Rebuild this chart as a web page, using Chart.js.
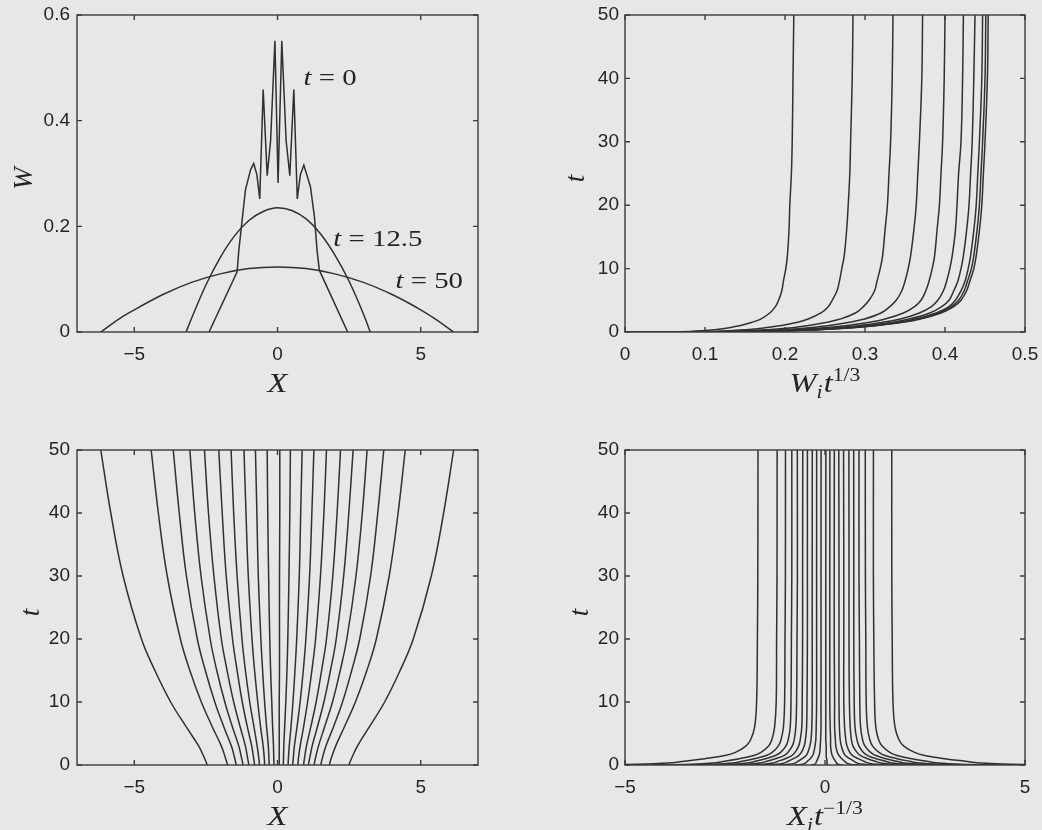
<!DOCTYPE html>
<html>
<head>
<meta charset="utf-8">
<title>Spreading of a thin layer</title>
<script src="https://cdn.jsdelivr.net/npm/chart.js@4.4.1/dist/chart.umd.min.js"></script>
<style>
  html, body { margin: 0; background: #e7e7e7; }
  #figure { position: relative; width: 1042px; height: 830px; overflow: hidden; }
  #figure canvas { position: absolute; }
</style>
</head>
<body>
<div id="figure">
  <canvas id="profiles" width="521" height="415" style="left:0;top:0"></canvas>
  <canvas id="heights" width="521" height="415" style="left:521px;top:0"></canvas>
  <canvas id="paths" width="521" height="415" style="left:0;top:415px"></canvas>
  <canvas id="scaledPaths" width="521" height="415" style="left:521px;top:415px"></canvas>
</div>
<script>
// ---- data ----

// W(X) profiles at t = 0, 12.5 and 50
const profileX0 = [-2.39, -1.41, -1.35, -1.26, -1.12, -0.94, -0.83, -0.72, -0.62, -0.50, -0.36, -0.24, -0.09,
                   0.02, 0.15, 0.30, 0.43, 0.57, 0.69, 0.80, 0.92, 1.15, 1.29, 1.38, 1.46, 2.45];
const profileW0 = [0, 0.114, 0.155, 0.199, 0.269, 0.307, 0.319, 0.298, 0.252, 0.459, 0.296, 0.363, 0.551,
                   0.282, 0.551, 0.363, 0.296, 0.459, 0.252, 0.298, 0.316, 0.275, 0.218, 0.155, 0.117, 0];
const profileX12 = [-3.19, -3.0, -2.5, -2.0, -1.5, -1.0, -0.5, 0, 0.5, 1.0, 1.5, 2.0, 2.5, 3.0, 3.24];
const profileW12 = [0, 0.026, 0.089, 0.141, 0.182, 0.211, 0.228, 0.235, 0.230, 0.214, 0.186, 0.146, 0.096, 0.034, 0];
const profileX50 = [-6.17, -5.5, -5, -4, -3, -2, -1, 0, 1, 2, 3, 4, 5, 5.5, 6.15];
const profileW50 = [0, 0.026, 0.042, 0.071, 0.094, 0.110, 0.120, 0.123, 0.120, 0.110, 0.094, 0.071, 0.042, 0.025, 0];

// W_i t^(1/3) for each marker against t
const heightTimes = [0, 0.05, 0.2, 0.5, 1, 1.5, 2, 3, 4, 5, 6.5, 8, 10, 12, 16, 20, 25, 30, 40, 50];
const scaledHeights = [
  [0, .070, .095, .122, .143, .158, .169, .181, .188, .192, .196, .198, .201, .203, .205, .206, .208, .209, .210, .211],
  [0, .094, .128, .165, .194, .214, .228, .245, .254, .259, .265, .268, .271, .274, .277, .279, .281, .282, .284, .285],
  [0, .111, .151, .194, .228, .251, .268, .288, .298, .305, .312, .315, .319, .322, .325, .328, .330, .332, .334, .335],
  [0, .123, .167, .216, .253, .279, .298, .320, .331, .339, .346, .350, .354, .357, .361, .364, .366, .368, .371, .372],
  [0, .132, .180, .232, .276, .304, .324, .348, .362, .370, .376, .380, .384, .387, .390, .393, .395, .397, .399, .400],
  [0, .140, .190, .245, .292, .321, .343, .368, .383, .391, .398, .402, .406, .409, .413, .415, .417, .420, .422, .423],
  [0, .144, .197, .254, .302, .333, .354, .381, .396, .405, .411, .416, .420, .423, .427, .430, .432, .434, .436, .4375],
  [0, .148, .201, .259, .308, .340, .362, .389, .405, .413, .420, .425, .429, .432, .436, .439, .441, .443, .446, .447],
  [0, .149, .203, .262, .311, .343, .365, .392, .408, .417, .424, .428, .433, .436, .440, .443, .445, .447, .450, .451],
  [0, .150, .204, .263, .313, .345, .368, .395, .411, .420, .427, .431, .436, .439, .443, .446, .448, .450, .453, .454]
];

// marker positions X_i against t
const pathTimes = [0, 1, 3, 6, 10, 15, 20, 30, 40, 50];
const paths = [
  [-2.45, -2.54, -2.75, -3.18, -3.73, -4.28, -4.75, -5.39, -5.82, -6.17],
  [-1.74, -1.81, -1.96, -2.27, -2.66, -3.06, -3.39, -3.85, -4.16, -4.41],
  [-1.44, -1.49, -1.61, -1.87, -2.19, -2.52, -2.80, -3.18, -3.43, -3.64],
  [-1.20, -1.25, -1.35, -1.57, -1.84, -2.12, -2.35, -2.67, -2.89, -3.06],
  [-1.00, -1.04, -1.12, -1.30, -1.53, -1.76, -1.96, -2.22, -2.41, -2.55],
  [-0.80, -0.83, -0.90, -1.05, -1.23, -1.41, -1.57, -1.79, -1.93, -2.05],
  [-0.63, -0.65, -0.71, -0.82, -0.97, -1.12, -1.24, -1.41, -1.53, -1.62],
  [-0.45, -0.46, -0.50, -0.59, -0.69, -0.80, -0.89, -1.02, -1.10, -1.17],
  [-0.29, -0.30, -0.32, -0.38, -0.45, -0.52, -0.58, -0.67, -0.72, -0.77],
  [-0.12, -0.13, -0.14, -0.17, -0.20, -0.24, -0.27, -0.31, -0.34, -0.36],
  [0.06, 0.06, 0.06, 0.06, 0.06, 0.07, 0.07, 0.07, 0.08, 0.08],
  [0.20, 0.21, 0.22, 0.25, 0.29, 0.33, 0.36, 0.40, 0.43, 0.45],
  [0.37, 0.38, 0.41, 0.47, 0.54, 0.61, 0.67, 0.76, 0.81, 0.86],
  [0.53, 0.55, 0.59, 0.68, 0.79, 0.90, 0.99, 1.12, 1.20, 1.27],
  [0.71, 0.73, 0.79, 0.91, 1.05, 1.20, 1.33, 1.50, 1.62, 1.71],
  [0.91, 0.94, 1.01, 1.16, 1.35, 1.54, 1.71, 1.93, 2.08, 2.20],
  [1.08, 1.12, 1.21, 1.39, 1.62, 1.85, 2.05, 2.31, 2.49, 2.64],
  [1.28, 1.32, 1.43, 1.64, 1.92, 2.19, 2.42, 2.74, 2.96, 3.13],
  [1.51, 1.56, 1.69, 1.95, 2.27, 2.59, 2.87, 3.25, 3.50, 3.71],
  [1.81, 1.87, 2.03, 2.33, 2.72, 3.12, 3.45, 3.90, 4.21, 4.46],
  [2.49, 2.58, 2.79, 3.20, 3.74, 4.28, 4.74, 5.37, 5.80, 6.15]
];

// X_i t^(-1/3) against t
const scaledTimes = [0.03, 0.1, 0.3, 0.6, 1, 1.5, 2, 3, 4, 6, 10, 20, 30, 50];
const scaledPaths = [
  [-6.03, -4.69, -3.94, -3.52, -3.00, -2.50, -2.24, -1.98, -1.86, -1.76, -1.71, -1.69, -1.68, -1.675],
  [-4.31, -3.35, -2.81, -2.51, -2.14, -1.78, -1.60, -1.41, -1.33, -1.26, -1.22, -1.21, -1.20, -1.197],
  [-3.56, -2.77, -2.32, -2.07, -1.77, -1.47, -1.32, -1.17, -1.10, -1.04, -1.01, -1.00, -0.99, -0.988],
  [-2.99, -2.32, -1.95, -1.74, -1.49, -1.24, -1.11, -0.98, -0.92, -0.87, -0.85, -0.84, -0.83, -0.83],
  [-2.49, -1.94, -1.63, -1.45, -1.24, -1.03, -0.93, -0.82, -0.77, -0.73, -0.71, -0.70, -0.69, -0.692],
  [-2.00, -1.56, -1.31, -1.17, -1.00, -0.83, -0.75, -0.66, -0.62, -0.58, -0.57, -0.56, -0.56, -0.556],
  [-1.58, -1.23, -1.03, -0.92, -0.79, -0.66, -0.59, -0.52, -0.49, -0.46, -0.45, -0.44, -0.44, -0.44],
  [-1.14, -0.89, -0.75, -0.67, -0.57, -0.47, -0.43, -0.38, -0.35, -0.33, -0.32, -0.32, -0.32, -0.318],
  [-0.75, -0.59, -0.49, -0.44, -0.37, -0.31, -0.28, -0.25, -0.23, -0.22, -0.21, -0.21, -0.21, -0.209],
  [-0.35, -0.27, -0.23, -0.21, -0.18, -0.15, -0.13, -0.12, -0.11, -0.10, -0.10, -0.10, -0.10, -0.098],
  [0.08, 0.06, 0.05, 0.05, 0.04, 0.03, 0.03, 0.03, 0.02, 0.02, 0.02, 0.02, 0.02, 0.022],
  [0.44, 0.34, 0.29, 0.26, 0.22, 0.18, 0.16, 0.14, 0.14, 0.13, 0.12, 0.12, 0.12, 0.122],
  [0.84, 0.65, 0.55, 0.49, 0.42, 0.35, 0.31, 0.27, 0.26, 0.24, 0.24, 0.23, 0.23, 0.233],
  [1.24, 0.97, 0.81, 0.72, 0.62, 0.51, 0.46, 0.41, 0.38, 0.36, 0.35, 0.35, 0.35, 0.345],
  [1.67, 1.30, 1.09, 0.97, 0.83, 0.69, 0.62, 0.55, 0.52, 0.49, 0.47, 0.47, 0.47, 0.464],
  [2.15, 1.67, 1.40, 1.25, 1.07, 0.89, 0.80, 0.70, 0.66, 0.63, 0.61, 0.60, 0.60, 0.597],
  [2.58, 2.01, 1.68, 1.51, 1.28, 1.07, 0.96, 0.85, 0.80, 0.75, 0.73, 0.72, 0.72, 0.717],
  [3.06, 2.38, 2.00, 1.79, 1.52, 1.27, 1.14, 1.00, 0.94, 0.89, 0.87, 0.86, 0.85, 0.85],
  [3.63, 2.82, 2.37, 2.11, 1.80, 1.50, 1.35, 1.19, 1.12, 1.06, 1.03, 1.02, 1.01, 1.007],
  [4.36, 3.39, 2.85, 2.54, 2.17, 1.80, 1.62, 1.43, 1.34, 1.27, 1.24, 1.22, 1.21, 1.211],
  [6.01, 4.67, 3.92, 3.50, 2.99, 2.49, 2.24, 1.97, 1.85, 1.75, 1.70, 1.68, 1.67, 1.669]
];

// tick values
const profileXTicks = [-5, 0, 5];
const profileWTicks = [0, 0.2, 0.4, 0.6];
const timeTicks = [0, 10, 20, 30, 40, 50];
const scaledHeightTicks = [0, 0.1, 0.2, 0.3, 0.4, 0.5];
const scaledXTicks = [-5, 0, 5];

// ---- drawing ----

const SANS = '"Liberation Sans", Arial, Helvetica, sans-serif';
const SERIF = '"Liberation Serif", "Times New Roman", serif';
const INK = '#242424';
const FRAME = '#3b3b3b';
const LINE = '#303030';
const TICK = 5;
const STRETCH = 1.2;

// small math typesetter: parts are {text, it, sub, sup, gap}
function drawMath(ctx, parts, x, y, size, opts) {
  opts = opts || {};
  const small = Math.round(size * 0.68);
  const fontOf = p => (p.it ? 'italic ' : '') + (p.sub || p.sup ? small : size) + 'px ' + SERIF;
  const widths = parts.map(p => { ctx.font = fontOf(p); return ctx.measureText(p.text).width + (p.gap || 0); });
  const total = widths.reduce((s, w) => s + w, 0);
  ctx.save();
  ctx.translate(x, y);
  if (opts.rotate) ctx.rotate(-Math.PI / 2);
  else ctx.scale(STRETCH, 1);
  ctx.fillStyle = INK;
  ctx.textAlign = 'left';
  ctx.textBaseline = 'alphabetic';
  let cx = opts.align === 'left' ? 0 : -total / 2;
  const base = size * 0.33;
  parts.forEach((p, i) => {
    ctx.font = fontOf(p);
    const dy = p.sub ? size * 0.22 : p.sup ? -size * 0.42 : 0;
    ctx.fillText(p.text, cx + (p.gap || 0), base + dy);
    cx += widths[i];
  });
  ctx.restore();
}

// box, inward ticks on all sides, axis titles and notes
function frame(spec) {
  return {
    id: 'frame',
    afterDraw(chart) {
      const ctx = chart.ctx, a = chart.chartArea, sx = chart.scales.x, sy = chart.scales.y;
      ctx.save();
      ctx.strokeStyle = FRAME;
      ctx.lineWidth = 1.4;
      ctx.strokeRect(a.left, a.top, a.right - a.left, a.bottom - a.top);
      ctx.beginPath();
      sx.ticks.forEach(t => {
        const p = sx.getPixelForValue(t.value);
        ctx.moveTo(p, a.bottom); ctx.lineTo(p, a.bottom - TICK);
        ctx.moveTo(p, a.top); ctx.lineTo(p, a.top + TICK);
      });
      sy.ticks.forEach(t => {
        const p = sy.getPixelForValue(t.value);
        ctx.moveTo(a.left, p); ctx.lineTo(a.left + TICK, p);
        ctx.moveTo(a.right, p); ctx.lineTo(a.right - TICK, p);
      });
      ctx.stroke();
      ctx.restore();
      drawMath(ctx, spec.xTitle, (a.left + a.right) / 2, a.bottom + 51, 27);
      drawMath(ctx, spec.yTitle, a.left - spec.yGap, (a.top + a.bottom) / 2 + 5, 27, { rotate: true });
      (spec.notes || []).forEach(n => {
        drawMath(ctx, n.parts, sx.getPixelForValue(n.x), sy.getPixelForValue(n.y), 24, { align: 'left' });
      });
    }
  };
}

function axis(min, max, ticks, size, pad) {
  return {
    type: 'linear',
    min: min,
    max: max,
    afterBuildTicks: s => { s.ticks = ticks.map(v => ({ value: v })); },
    afterFit: s => {
      // fixed axis band, and no extra room reserved for edge labels
      if (s.isHorizontal()) { s.height = size; s.paddingLeft = 0; s.paddingRight = 0; }
      else { s.width = size; s.paddingTop = 0; s.paddingBottom = 0; }
    },
    grid: { display: false, drawTicks: false },
    border: { display: false },
    ticks: {
      color: INK,
      font: { family: SANS, size: 19 },
      padding: pad,
      maxRotation: 0,
      autoSkip: false,
      callback: v => String(v).replace('-', '\u2212')
    }
  };
}

// mode: 'poly' straight segments, 'mono' monotone cubic, 'spline' tension bezier
function line(xs, ys, mode) {
  return {
    data: xs.map((x, i) => ({ x: x, y: ys[i] })),
    pointRadius: 0,
    borderColor: LINE,
    borderWidth: 1.5,
    tension: mode === 'poly' ? 0 : 0.4,
    cubicInterpolationMode: mode === 'mono' ? 'monotone' : 'default'
  };
}

function makeChart(id, datasets, xAxis, yAxis, padding, spec) {
  return new Chart(document.getElementById(id), {
    type: 'line',
    data: { datasets: datasets },
    options: {
      responsive: false,
      animation: false,
      events: [],
      layout: { padding: padding },
      plugins: { legend: { display: false }, tooltip: { enabled: false } },
      scales: { x: xAxis, y: yAxis }
    },
    plugins: [frame(spec)]
  });
}

const tEq = (value) => [{ text: 't', it: true }, { text: '=', gap: 6 }, { text: value, gap: 6 }];

makeChart('profiles',
  [
    line(profileX0, profileW0, 'poly'),
    line(profileX12, profileW12, 'mono'),
    line(profileX50, profileW50, 'mono')
  ],
  axis(-7, 7, profileXTicks, 83, 11),
  axis(0, 0.6, profileWTicks, 77, 7),
  { top: 15, right: 43, left: 0, bottom: 0 },
  {
    xTitle: [{ text: 'X', it: true }],
    yTitle: [{ text: 'W', it: true }],
    yGap: 54,
    notes: [
      { x: 0.91, y: 0.483, parts: tEq('0') },
      { x: 1.95, y: 0.178, parts: tEq('12.5') },
      { x: 4.12, y: 0.098, parts: tEq('50') }
    ]
  });

makeChart('heights',
  scaledHeights.map(row => line(row, heightTimes, 'spline')),
  axis(0, 0.5, scaledHeightTicks, 83, 11),
  axis(0, 50, timeTicks, 104, 6),
  { top: 15, right: 17, left: 0, bottom: 0 },
  {
    xTitle: [{ text: 'W', it: true }, { text: 'i', it: true, sub: true }, { text: 't', it: true, gap: 1 }, { text: '1/3', sup: true }],
    yTitle: [{ text: 't', it: true }],
    yGap: 50
  });

makeChart('paths',
  paths.map(row => line(row, pathTimes, 'spline')),
  axis(-7, 7, profileXTicks, 65, 11),
  axis(0, 50, timeTicks, 77, 7),
  { top: 35, right: 43, left: 0, bottom: 0 },
  {
    xTitle: [{ text: 'X', it: true }],
    yTitle: [{ text: 't', it: true }],
    yGap: 47
  });

makeChart('scaledPaths',
  scaledPaths.map(row => line(row, scaledTimes, 'spline')),
  axis(-5, 5, scaledXTicks, 65, 11),
  axis(0, 50, timeTicks, 104, 6),
  { top: 35, right: 17, left: 0, bottom: 0 },
  {
    xTitle: [{ text: 'X', it: true }, { text: 'i', it: true, sub: true }, { text: 't', it: true, gap: 1 }, { text: '\u22121/3', sup: true }],
    yTitle: [{ text: 't', it: true }],
    yGap: 46
  });
</script>
</body>
</html>
